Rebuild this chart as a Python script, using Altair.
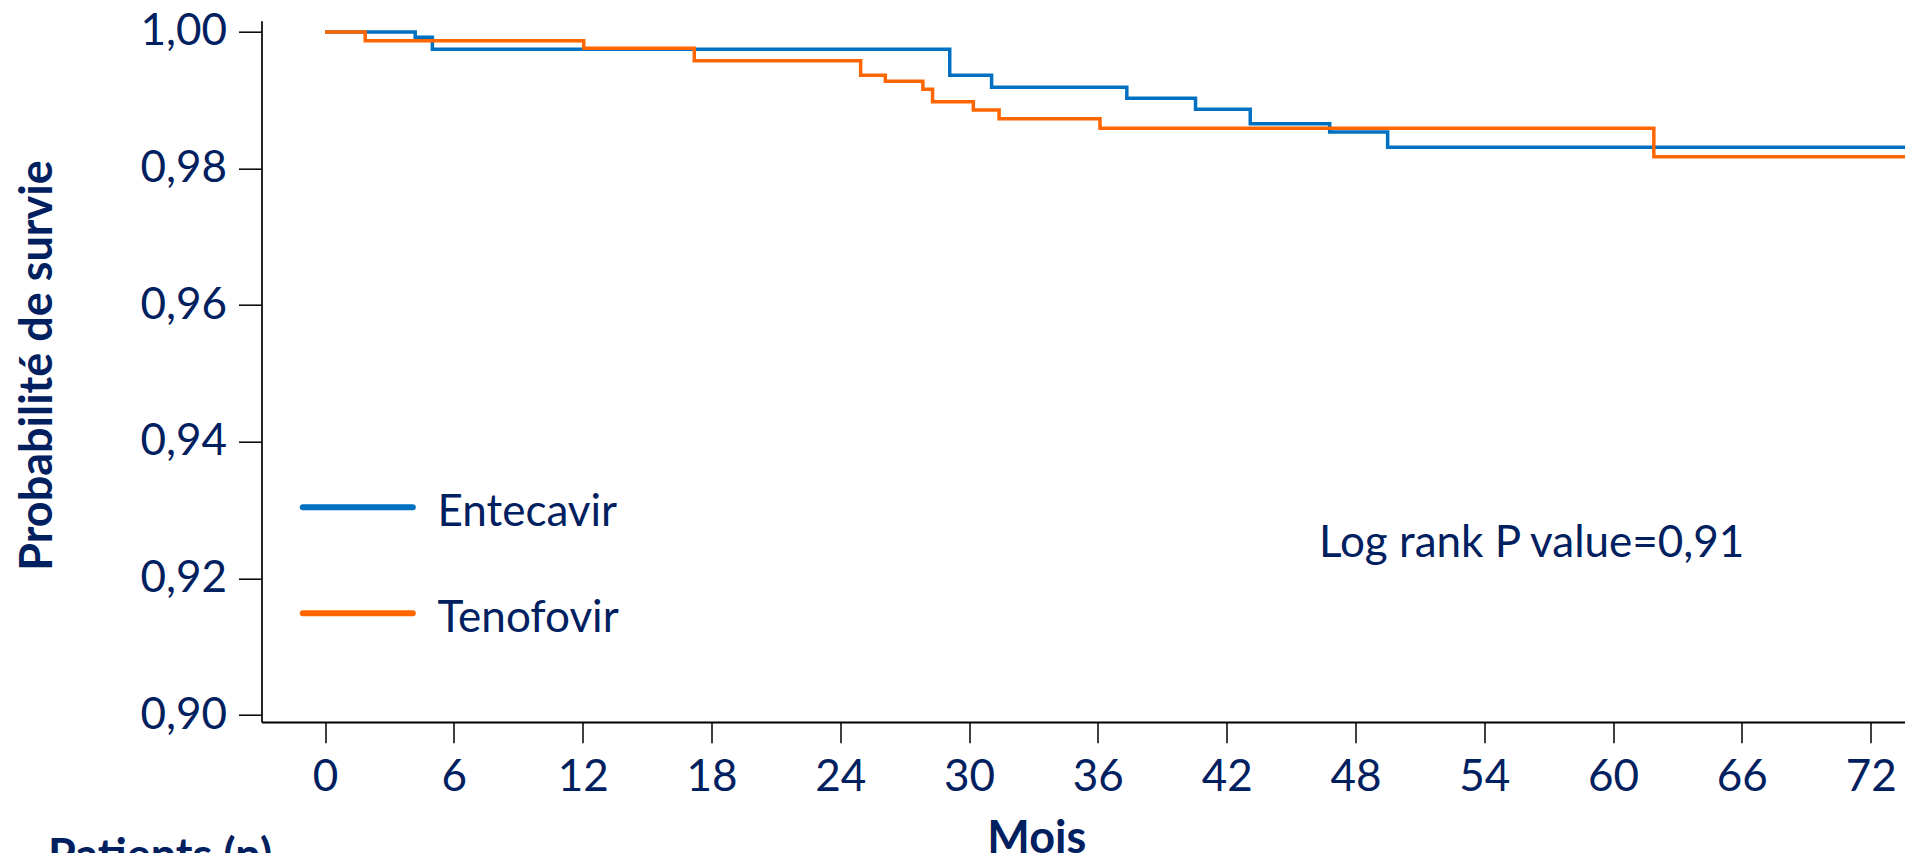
import altair as alt
import pandas as pd

# ---- data ----
series = ["Entecavir", "Tenofovir"]
colors = ["#0070C0", "#FF6600"]

months_ent = [0, 4.2, 5.0, 29.1, 31.05, 37.35, 40.55, 43.1, 46.8, 49.5, 74]
surv_ent = [1.0, 0.99922, 0.99747, 0.99366, 0.99190, 0.99029, 0.98868, 0.98657,
            0.98536, 0.98312, 0.98312]

months_ten = [0, 1.87, 12.05, 17.2, 24.95, 26.1, 27.85, 28.3, 30.2, 31.4, 36.1, 61.9, 74]
surv_ten = [1.0, 0.99873, 0.99761, 0.99580, 0.99366, 0.99278, 0.99161, 0.98980,
            0.98858, 0.98731, 0.98590, 0.98174, 0.98174]

x_ticks = list(range(0, 73, 6))
y_ticks = [0.90, 0.92, 0.94, 0.96, 0.98, 1.00]

x_title = "Mois"
y_title = "Probabilité de survie"
pvalue_text = "Log rank P value=0,91"
table_title = "Patients (n)"

TEXT = "#002060"
FONT = "Lato"
FS = 44      # regular text size
FSB = 45     # bold title size

df = pd.concat([
    pd.DataFrame({"mois": months_ent, "survie": surv_ent, "groupe": series[0]}),
    pd.DataFrame({"mois": months_ten, "survie": surv_ten, "groupe": series[1]}),
], ignore_index=True)

W, H = 1643.5, 701.3

x_enc = alt.X(
    "mois:Q",
    scale=alt.Scale(domain=[-2.96, 73.6], nice=False, zero=False),
    axis=alt.Axis(
        values=x_ticks, title=x_title, grid=False,
        labelFont=FONT, labelFontSize=FS, labelColor=TEXT,
        labelBaseline="alphabetic", labelPadding=47.7,
        labelFlush=False, labelOverlap=False,
        tickSize=20.7, tickColor="black", tickWidth=1.5,
        domainColor="black", domainWidth=2,
        titleFont=FONT, titleFontSize=FSB, titleFontWeight="bold", titleColor=TEXT,
        titleX=774.8, titleY=130.5, titleAlign="center", titleBaseline="alphabetic",
    ),
)
y_enc = alt.Y(
    "survie:Q",
    scale=alt.Scale(domain=[0.89898, 1.00165], nice=False, zero=False),
    axis=alt.Axis(
        values=y_ticks, grid=False, title=y_title,
        labelExpr="replace(format(datum.value, '.2f'), '.', ',')",
        labelFont=FONT, labelFontSize=FS, labelColor=TEXT, labelPadding=12,
        tickSize=23, tickColor="black", tickWidth=1.5,
        domainColor="black", domainWidth=1.7,
        titleFont=FONT, titleFontSize=FSB, titleFontWeight="bold", titleColor=TEXT,
        titleAngle=270, titleX=-209.8, titleY=344.3, titleAlign="center",
        titleBaseline="alphabetic",
    ),
)

lines = alt.Chart(df).mark_line(interpolate="step-after", strokeWidth=3.5, clip=True).encode(
    x=x_enc,
    y=y_enc,
    color=alt.Color("groupe:N", scale=alt.Scale(domain=series, range=colors), legend=None),
)

layers = [lines]

# manual legend
for i, (name, col) in enumerate(zip(series, colors)):
    ly = 486.6 + i * 106
    layers.append(
        alt.Chart(pd.DataFrame({"n": [name]})).mark_rule(
            strokeWidth=6, strokeCap="round", color=col
        ).encode(x=alt.value(41.3), x2=alt.value(151.3), y=alt.value(ly))
    )
    layers.append(
        alt.Chart(pd.DataFrame({"n": [name]})).mark_text(
            align="left", baseline="alphabetic", font=FONT, fontSize=FS, color=TEXT
        ).encode(x=alt.value(176), y=alt.value(ly + 19), text="n:N")
    )

layers.append(
    alt.Chart(pd.DataFrame({"t": [pvalue_text]})).mark_text(
        align="left", baseline="alphabetic", font=FONT, fontSize=FS, color=TEXT
    ).encode(x=alt.value(1057.5), y=alt.value(536), text="t:N")
)
layers.append(
    alt.Chart(pd.DataFrame({"t": [table_title]})).mark_text(
        align="left", baseline="alphabetic", font=FONT, fontSize=FSB,
        fontWeight="bold", color=TEXT
    ).encode(x=alt.value(-213.5), y=alt.value(850.3), text="t:N")
)

chart = alt.layer(*layers).properties(
    width=W, height=H,
    autosize=alt.AutoSizeParams(type="none"),
    padding={"left": 253.5, "top": 12.7, "right": 0, "bottom": 131},
).configure_view(stroke=None)

chart.save("out.html", embed_options={"renderer": "svg", "actions": False})
